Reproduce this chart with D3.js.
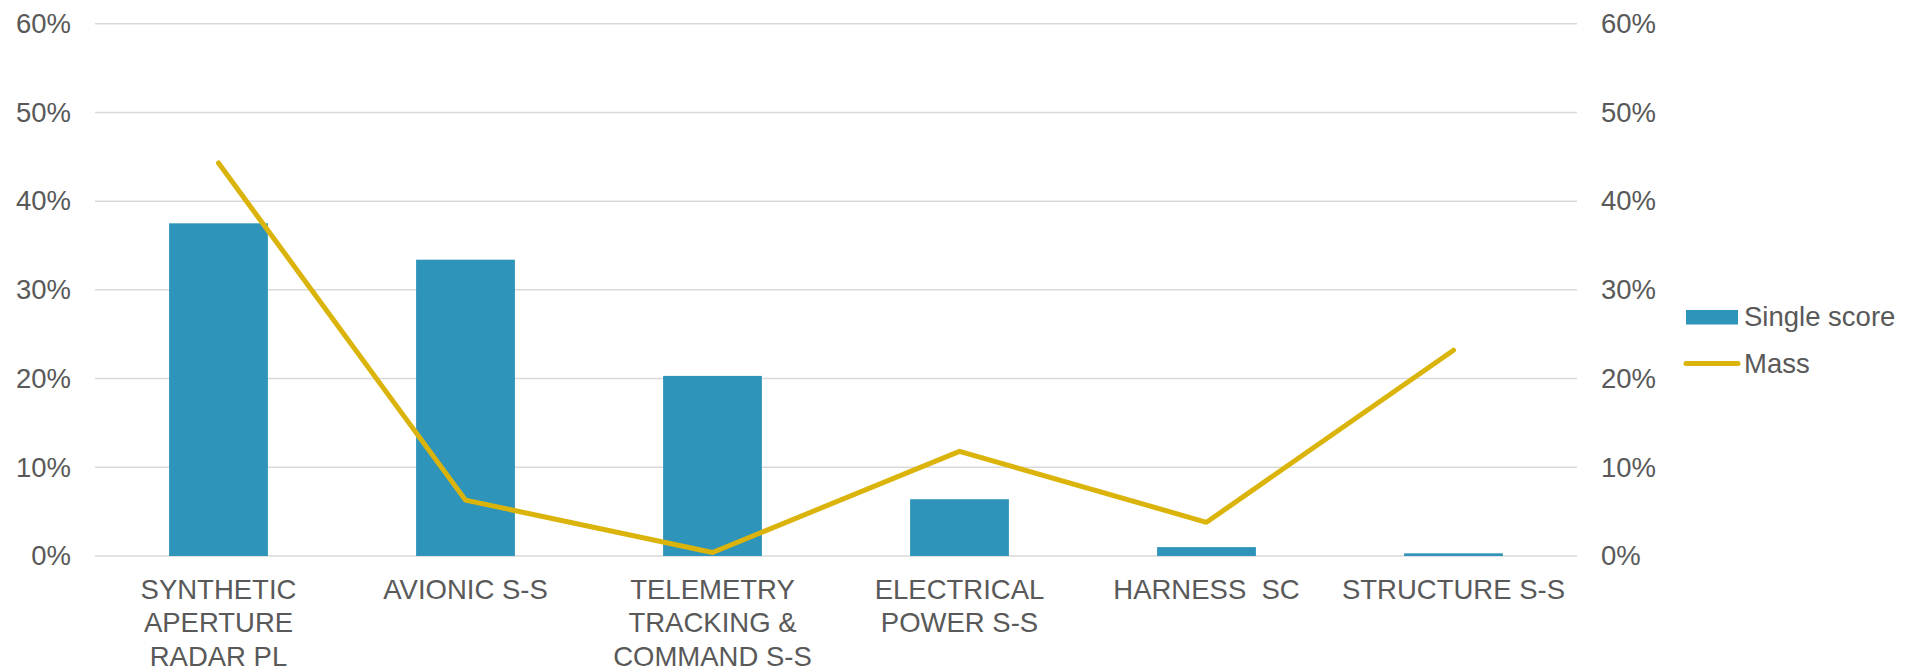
<!DOCTYPE html>
<html>
<head>
<meta charset="utf-8">
<script src="https://cdn.jsdelivr.net/npm/d3@7"></script>
<style>
  html, body { margin: 0; padding: 0; background: #fff; }
  svg { display: block; font-family: "Liberation Sans", Arial, sans-serif; }
</style>
</head>
<body>
<svg id="chart" width="1921" height="669"></svg>
<script>
// Subsystem categories (label lines as wrapped on the axis)
const categories = [
  ["SYNTHETIC", "APERTURE", "RADAR PL"],
  ["AVIONIC S-S"],
  ["TELEMETRY", "TRACKING &", "COMMAND S-S"],
  ["ELECTRICAL", "POWER S-S"],
  ["HARNESS  SC"],
  ["STRUCTURE S-S"]
];
// Share of single score per subsystem (bars, left axis)
const singleScore = [0.375, 0.334, 0.203, 0.064, 0.010, 0.003];
// Share of mass per subsystem (line, right axis)
const mass = [0.443, 0.063, 0.004, 0.118, 0.038, 0.232];
// Axis ticks
const ticks = [0, 0.1, 0.2, 0.3, 0.4, 0.5, 0.6];
const seriesNames = ["Single score", "Mass"];

const svg = d3.select("#chart");
const plotLeft = 95, plotRight = 1577, plotTop = 23.7, plotBottom = 556;
const textColor = "#595959";
const fontSize = 27.5;
const barColor = "#2E94B9";
const lineColor = "#DAB40A";

const keys = categories.map((c, i) => i);
const x = d3.scaleBand().domain(keys).range([plotLeft, plotRight]).paddingInner(0.6).paddingOuter(0.3);
const yLeft = d3.scaleLinear().domain([0, 0.6]).range([plotBottom, plotTop]);
const yRight = d3.scaleLinear().domain([0, 0.6]).range([plotBottom, plotTop]);
const pct = d3.format(".0%");

// Horizontal gridlines
svg.append("g").selectAll("line").data(ticks).join("line")
  .attr("x1", plotLeft).attr("x2", plotRight)
  .attr("y1", d => yLeft(d)).attr("y2", d => yLeft(d))
  .attr("stroke", "#d9d9d9").attr("stroke-width", 1.5);

// Left axis
const axL = svg.append("g").attr("transform", `translate(${plotLeft - 24},0)`)
  .call(d3.axisLeft(yLeft).tickValues(ticks).tickFormat(pct).tickSize(0).tickPadding(0));
axL.select(".domain").remove();
axL.selectAll("text").attr("fill", textColor).attr("font-size", fontSize)
  .attr("font-family", "Liberation Sans, Arial, sans-serif");

// Right axis
const axR = svg.append("g").attr("transform", `translate(${plotRight + 24},0)`)
  .call(d3.axisRight(yRight).tickValues(ticks).tickFormat(pct).tickSize(0).tickPadding(0));
axR.select(".domain").remove();
axR.selectAll("text").attr("fill", textColor).attr("font-size", fontSize)
  .attr("font-family", "Liberation Sans, Arial, sans-serif");

// Bars
svg.append("g").selectAll("rect").data(singleScore).join("rect")
  .attr("x", (d, i) => x(i))
  .attr("width", x.bandwidth())
  .attr("y", d => yLeft(d))
  .attr("height", d => yLeft(0) - yLeft(d))
  .attr("fill", barColor);

// Mass line
const line = d3.line()
  .x((d, i) => x(i) + x.bandwidth() / 2)
  .y(d => yRight(d));
svg.append("path").datum(mass)
  .attr("d", line)
  .attr("fill", "none")
  .attr("stroke", lineColor)
  .attr("stroke-width", 5)
  .attr("stroke-linejoin", "round")
  .attr("stroke-linecap", "round");

// Category labels
const catG = svg.append("g");
categories.forEach((lines, i) => {
  const t = catG.append("text")
    .attr("x", x(i) + x.bandwidth() / 2)
    .attr("y", 599)
    .attr("text-anchor", "middle")
    .attr("fill", textColor)
    .attr("font-size", fontSize)
    .style("white-space", "pre");
  lines.forEach((s, j) => {
    t.append("tspan")
      .attr("x", x(i) + x.bandwidth() / 2)
      .attr("dy", j === 0 ? 0 : 33.3)
      .text(s);
  });
});

// Legend
const lg = svg.append("g");
lg.append("rect").attr("x", 1686).attr("y", 310).attr("width", 52).attr("height", 14.5).attr("fill", barColor);
lg.append("text").attr("x", 1744).attr("y", 326).attr("fill", textColor).attr("font-size", fontSize).text(seriesNames[0]);
lg.append("line").attr("x1", 1686).attr("x2", 1738).attr("y1", 363.5).attr("y2", 363.5)
  .attr("stroke", lineColor).attr("stroke-width", 5).attr("stroke-linecap", "round");
lg.append("text").attr("x", 1744).attr("y", 373).attr("fill", textColor).attr("font-size", fontSize).text(seriesNames[1]);
</script>
</body>
</html>
